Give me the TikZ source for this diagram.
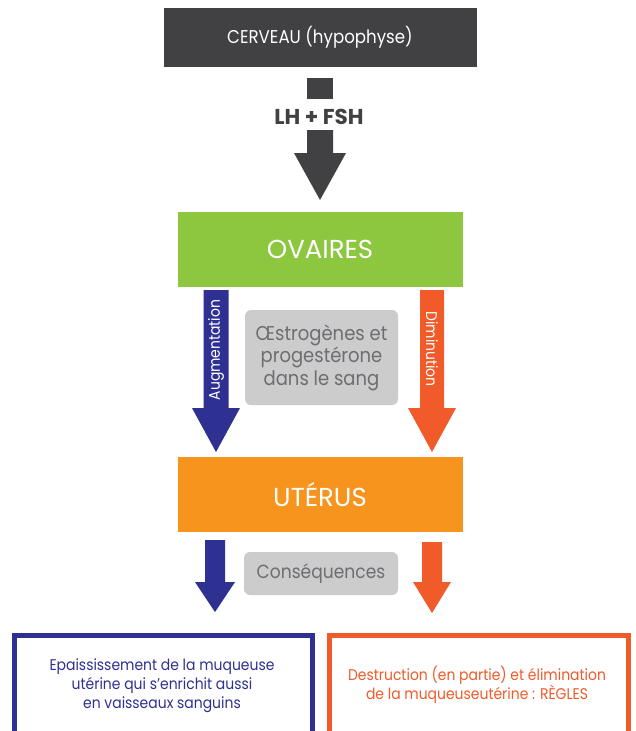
\documentclass[tikz,border=0pt]{standalone}
\usepackage{fontspec}
\setmainfont{Poppins}
\newfontfamily\narrowfont{Poppins}[FakeStretch=0.9]
\definecolor{cdark}{HTML}{414042}
\definecolor{cgreen}{HTML}{8DC63F}
\definecolor{corange}{HTML}{F7941D}
\definecolor{cblue}{HTML}{2E3192}
\definecolor{cred}{HTML}{F15A29}
\definecolor{cgraybox}{HTML}{CCCCCC}
\definecolor{cgraytext}{HTML}{6D6E71}
\newcommand\blockarr[7]{%
  \fill[#1] ({#2-#3},#5) -- ({#2+#3},#5) -- ({#2+#3},#6) -- ({#2+#4},#6) -- (#2,#7) -- ({#2-#4},#6) -- ({#2-#3},#6) -- cycle;}
\tikzset{
  mainbox/.style={inner sep=0pt, text=white, align=center},
  softbox/.style={fill=cgraybox, rounded corners=6pt, inner sep=0pt, text=cgraytext, align=center},
  arrlabel/.style={inner sep=0pt, text=white, font=\narrowfont\fontsize{15.5}{16}\selectfont},
  frametext/.style={inner sep=0pt, align=center, font=\narrowfont\fontsize{15.5}{19}\selectfont},
}
\begin{document}
\begin{tikzpicture}[x=1pt,y=-1pt]
\useasboundingbox (0,0) rectangle (635,731);
\fill[white] (0,0) rectangle (635,731);

% top box
\node[mainbox, fill=cdark, minimum width=313pt, minimum height=59pt,
  font=\narrowfont\fontsize{18.5}{20}\selectfont] (cerveau) at (320,37.5) {CERVEAU (hypophyse)};

% LH+FSH arrow
\fill[cdark] (307,78) rectangle (333,99);
\node[inner sep=0pt, text=cdark, font=\bfseries\fontsize{21.5}{22}\selectfont] (lhfsh) at (319,117) {LH + FSH};
\blockarr{cdark}{320}{13}{26}{130}{153}{200}

% ovaires
\node[mainbox, fill=cgreen, minimum width=285pt, minimum height=75pt,
  font=\fontsize{26}{28}\selectfont] (ovaires) at (320,249.5) {OVAIRES};

% hormone arrows
\blockarr{cblue}{216}{12.5}{24}{290}{408}{452}
\node[arrlabel, rotate=90] (augm) at (216,350) {Augmentation};
\blockarr{cred}{432}{12}{24}{290}{408}{452}
\node[arrlabel, rotate=-90] (dimin) at (432,349) {Diminution};

\node[softbox, minimum width=153pt, minimum height=95pt,
  font=\narrowfont\fontsize{20}{22.5}\selectfont] (hormones) at (321.5,357.5)
  {Œstrogènes et\\progestérone\\dans le sang};

% uterus
\node[mainbox, fill=corange, minimum width=285pt, minimum height=75pt,
  font=\fontsize{26}{28}\selectfont] (uterus) at (320,494.5) {UTÉRUS};

% consequence arrows
\blockarr{cblue}{215}{10}{20}{540}{582}{612}
\blockarr{cred}{432}{10}{19}{542}{582}{613}
\node[softbox, minimum width=154pt, minimum height=43pt,
  font=\narrowfont\fontsize{19}{20}\selectfont] (consq) at (321,573.5) {Conséquences};

% bottom frames
\draw[cblue, line width=5pt] (14.5,740) -- (14.5,635.5) -- (312.5,635.5) -- (312.5,740);
\draw[cred, line width=5pt] (329.5,740) -- (329.5,635.5) -- (628,635.5) -- (628,740);
\node[frametext, text=cblue] (epais) at (162,686)
  {Epaississement de la muqueuse\\utérine qui s’enrichit aussi\\en vaisseaux sanguins};
\node[frametext, text=cred] (destr) at (477,685)
  {Destruction (en partie) et élimination\\de la muqueuseutérine : RÈGLES};
\end{tikzpicture}
\end{document}
